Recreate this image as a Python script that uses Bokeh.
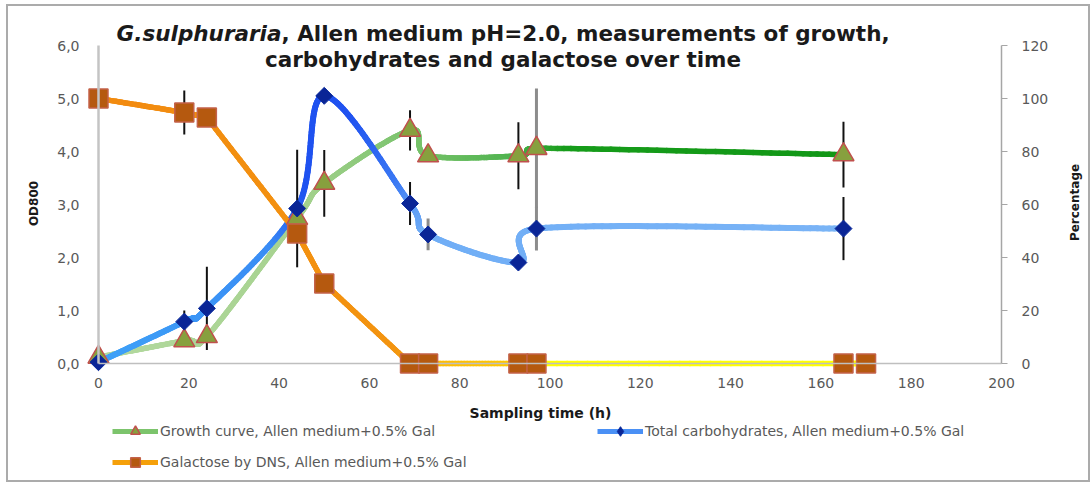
import numpy as np
from bokeh.plotting import figure
from bokeh.models import (Range1d, LinearAxis, FixedTicker, Label, Legend,
                          LegendItem, ColumnDataSource)
from bokeh.embed import file_html
from bokeh.resources import INLINE

# ---------------- data ----------------
time_growth = [0, 19, 24, 44, 50, 69, 73, 93, 97, 165]
od800 = [0.12, 0.43, 0.51, 2.74, 3.40, 4.40, 3.92, 3.92, 4.06, 3.94]
od800_err = [0, 0, 0, 0, 0.63, 0.38, 0, 0.63, 1.13, 0.62]

time_carb = [0, 19, 24, 44, 50, 69, 73, 93, 97, 165]
carb_pct = [0.5, 15.8, 20.8, 58.5, 101.0, 60.4, 48.7, 38.1, 50.9, 50.9]
carb_err = [0, 4.2, 15.7, 22.2, 0, 8.1, 6.0, 0, 8.3, 11.9]

time_gal = [0, 19, 24, 44, 50, 69, 73, 93, 97, 165, 170]
gal_pct = [100, 94.7, 92.8, 49.1, 30.2, 0, 0, 0, 0, 0, 0]
gal_err = [0, 8.3, 3.0, 0, 3.4, 0, 0, 0, 0, 0, 0]

gray_err_growth = [97]
gray_err_carb = [73, 97]

x_ticks = list(range(0, 201, 20))
od_ticks = [0, 1, 2, 3, 4, 5, 6]
od_tick_labels = ["0,0", "1,0", "2,0", "3,0", "4,0", "5,0", "6,0"]
pct_ticks = [0, 20, 40, 60, 80, 100, 120]

title_italic = "G.sulphuraria"
title_rest = ", Allen medium pH=2.0, measurements of growth,"
title_line2 = "carbohydrates and galactose over time"
label_growth = "Growth curve, Allen medium+0.5% Gal"
label_carb = "Total carbohydrates, Allen medium+0.5% Gal"
label_gal = "Galactose by DNS, Allen medium+0.5% Gal"

# ---------------- layout constants ----------------
W, H = 1084, 478          # canvas size
OX, OY = 8, 6             # canvas origin on the page (border + margin)
PX_H = 903 / 200.0        # pixels per hour
PX_OD = 318 / 6.0         # pixels per OD unit
PX_PCT = 318 / 120.0      # pixels per percent
X0_PAGE, Y0_PAGE, YTOP_PAGE = 98, 363, 45

x_start = -(X0_PAGE - OX) / PX_H
x_end = x_start + W / PX_H
od_end = 6 + (YTOP_PAGE - OY) / PX_OD
od_start = od_end - H / PX_OD
pct_end = 120 + (YTOP_PAGE - OY) / PX_PCT
pct_start = pct_end - H / PX_PCT


# ---------------- helpers (rendering only) ----------------
def smooth_path(xs, ys, sy, n=40):
    """Excel-like smoothed line (cubic Bezier through the points)."""
    X = np.asarray(xs, float) * PX_H
    Y = np.asarray(ys, float) * sy
    m = len(X)
    px, py = [], []
    for i in range(m - 1):
        i0 = max(i - 1, 0)
        i3 = min(i + 2, m - 1)
        chord = np.hypot(X[i + 1] - X[i], Y[i + 1] - Y[i])
        t1 = np.array([X[i + 1] - X[i0], Y[i + 1] - Y[i0]]) / 6
        t2 = np.array([X[i3] - X[i], Y[i3] - Y[i]]) / 6
        for tv in (t1, t2):
            L = np.hypot(*tv)
            if L > chord:
                tv *= chord / L
        c1 = np.array([X[i], Y[i]]) + t1
        c2 = np.array([X[i + 1], Y[i + 1]]) - t2
        t = np.linspace(0, 1, n, endpoint=(i == m - 2))
        a = (1 - t) ** 3
        b = 3 * (1 - t) ** 2 * t
        c = 3 * (1 - t) * t ** 2
        d = t ** 3
        px.extend(a * X[i] + b * c1[0] + c * c2[0] + d * X[i + 1])
        py.extend(a * Y[i] + b * c1[1] + c * c2[1] + d * Y[i + 1])
    return np.array(px) / PX_H, np.array(py) / sy


def straight_path(xs, ys, n=30):
    xs = np.asarray(xs, float)
    ys = np.asarray(ys, float)
    px, py = [], []
    m = len(xs)
    for i in range(m - 1):
        t = np.linspace(0, 1, n, endpoint=(i == m - 2))
        px.extend(xs[i] + (xs[i + 1] - xs[i]) * t)
        py.extend(ys[i] + (ys[i + 1] - ys[i]) * t)
    return np.array(px), np.array(py)


def hex2rgb(h):
    h = h.lstrip("#")
    return [int(h[k:k + 2], 16) for k in (0, 2, 4)]


def gradient(xm, stops):
    sx = [s[0] for s in stops]
    rgb = np.array([hex2rgb(s[1]) for s in stops], float)
    out = []
    for x in xm:
        r = int(round(np.interp(x, sx, rgb[:, 0])))
        g = int(round(np.interp(x, sx, rgb[:, 1])))
        b = int(round(np.interp(x, sx, rgb[:, 2])))
        out.append("#%02x%02x%02x" % (r, g, b))
    return out


def seg_source(px, py, stops):
    xm = (px[:-1] + px[1:]) / 2
    return ColumnDataSource(dict(x0=px[:-1], y0=py[:-1], x1=px[1:], y1=py[1:],
                                 c=gradient(xm, stops)))


growth_stops = [(0, "#b4d9a0"), (45, "#a6d28f"), (72, "#74c168"), (92, "#4fb34f"),
                (104, "#169c1a"), (200, "#0f9414")]
carb_stops = [(0, "#3ea2f7"), (38, "#3a8df5"), (46, "#1f52f0"), (56, "#2052f0"),
              (66, "#3a78f3"), (72, "#70aef6"), (200, "#7db6f6")]
gal_stops = [(0, "#f28a10"), (66, "#f39410"), (74, "#fdbb05"), (92, "#ffc800"),
             (100, "#ffff00"), (200, "#ffff00")]

# ---------------- figure ----------------
p = figure(width=W, height=H, x_range=Range1d(x_start, x_end),
           y_range=Range1d(od_start, od_end),
           output_backend="svg", toolbar_location=None, title=None,
           min_border_left=0, min_border_right=0, min_border_top=0,
           min_border_bottom=0, min_border=0)
p.styles = {"margin-left": "6px", "margin-top": "4px", "border": "2px solid #ababab"}
p.extra_y_ranges = {"pct": Range1d(pct_start, pct_end)}
p.xgrid.visible = False
p.ygrid.visible = False
p.outline_line_color = None
p.background_fill_color = "white"
p.border_fill_color = "white"

xa = p.xaxis[0]
xa.fixed_location = 0
xa.bounds = (0, 200)
xa.ticker = FixedTicker(ticks=x_ticks)
xa.axis_line_color = "#bfbfbf"
xa.axis_line_width = 1.5
xa.major_tick_out = 0
xa.major_tick_in = 0
xa.minor_tick_line_color = None
xa.major_label_standoff = 14
xa.major_label_text_font = "DejaVu Sans"
xa.major_label_text_font_size = "14px"
xa.major_label_text_color = "#595959"

ya = p.yaxis[0]
ya.fixed_location = 0
ya.bounds = (0, 6)
ya.ticker = FixedTicker(ticks=od_ticks)
ya.major_label_overrides = {t: s for t, s in zip(od_ticks, od_tick_labels)}
ya.axis_line_color = "#c4c4c4"
ya.axis_line_width = 2.5
ya.major_tick_out = 0
ya.major_tick_in = 0
ya.minor_tick_line_color = None
ya.major_label_standoff = 19
ya.major_label_text_font = "DejaVu Sans"
ya.major_label_text_font_size = "14px"
ya.major_label_text_color = "#595959"

ra = LinearAxis(y_range_name="pct", ticker=FixedTicker(ticks=pct_ticks))
ra.fixed_location = 200
ra.bounds = (0, 120)
ra.axis_line_color = "#a6a6a6"
ra.axis_line_width = 1.5
ra.major_tick_line_color = "#a6a6a6"
ra.major_tick_out = 6
ra.major_tick_in = 0
ra.minor_tick_line_color = None
ra.major_label_standoff = 14
ra.major_label_text_font = "DejaVu Sans"
ra.major_label_text_font_size = "14px"
ra.major_label_text_color = "#595959"
p.add_layout(ra, "right")

# ---------------- lines ----------------
gx, gy = smooth_path(time_growth, od800, PX_OD)
cx, cy = smooth_path(time_carb, carb_pct, PX_PCT)
lx, ly = straight_path(time_gal, gal_pct)

g_line = p.line(gx, gy, line_color="#7cc46c", line_width=5)
p.segment("x0", "y0", "x1", "y1", source=seg_source(gx, gy, growth_stops),
          line_color="c", line_width=5.5, line_cap="round")

c_line = p.line(cx, cy, line_color="#4a90f5", line_width=5, y_range_name="pct")
p.segment("x0", "y0", "x1", "y1", source=seg_source(cx, cy, carb_stops),
          line_color="c", line_width=6, line_cap="round", y_range_name="pct")

l_line = p.line(lx, ly, line_color="#f5a00a", line_width=5, y_range_name="pct")
p.segment("x0", "y0", "x1", "y1", source=seg_source(lx, ly, gal_stops),
          line_color="c", line_width=5.5, line_cap="round", y_range_name="pct")


# ---------------- error bars ----------------
def err_source(ts, vals, errs, gray):
    x, y0, y1, col, w = [], [], [], [], []
    for t, v, e in zip(ts, vals, errs):
        if e > 0:
            x.append(t)
            y0.append(v - e)
            y1.append(v + e)
            col.append("#8c8c8c" if t in gray else "#111111")
            w.append(3 if t in gray else 2)
    return ColumnDataSource(dict(x=x, y0=y0, y1=y1, c=col, w=w))


p.segment("x", "y0", "x", "y1", source=err_source(time_growth, od800, od800_err, gray_err_growth),
          line_color="c", line_width="w")
p.segment("x", "y0", "x", "y1", source=err_source(time_carb, carb_pct, carb_err, gray_err_carb),
          line_color="c", line_width="w", y_range_name="pct")
p.segment("x", "y0", "x", "y1", source=err_source(time_gal, gal_pct, gal_err, []),
          line_color="c", line_width="w", y_range_name="pct")

# ---------------- markers ----------------
g_mk = p.scatter(time_growth, od800, marker="triangle", size=21,
                 fill_color="#87a03e", line_color="#c0504d", line_width=1.5)
# plain diamonds (hidden under the rotated squares) give the legend its glyph
c_leg = p.scatter(time_carb, carb_pct, marker="diamond", size=14,
                  fill_color="#0a2596", line_color="#0a2a9c", line_width=1,
                  y_range_name="pct")
c_mk = p.scatter(time_carb, carb_pct, marker="square", angle=np.pi / 4, size=12,
                 fill_color="#0a2596", line_color="#0a2a9c", line_width=1,
                 y_range_name="pct")
l_mk = p.scatter(time_gal, gal_pct, marker="square", size=19,
                 fill_color="#b5590f", line_color="#c4624a", line_width=1.5,
                 y_range_name="pct")


# ---------------- texts ----------------
def tx(px):  # page pixel -> hours
    return (px - X0_PAGE) / PX_H


def ty(py):  # page pixel -> OD800
    return (Y0_PAGE - py) / PX_OD


split = 281
TF = "21.5px"
p.add_layout(Label(x=tx(split), y=ty(33), text=title_italic, text_align="right",
                   text_baseline="middle", text_font="DejaVu Sans",
                   text_font_style="bold italic", text_font_size=TF,
                   text_color="#1a1a1a"))
p.add_layout(Label(x=tx(split), y=ty(33), text=title_rest, text_align="left",
                   text_baseline="middle", text_font="DejaVu Sans",
                   text_font_style="bold", text_font_size=TF,
                   text_color="#1a1a1a"))
p.add_layout(Label(x=tx(502.5), y=ty(59), text=title_line2, text_align="center",
                   text_baseline="middle", text_font="DejaVu Sans",
                   text_font_style="bold", text_font_size=TF,
                   text_color="#1a1a1a"))
p.add_layout(Label(x=tx(33), y=ty(203), text="OD800", angle=np.pi / 2,
                   text_align="center", text_baseline="middle", text_font="DejaVu Sans",
                   text_font_style="bold", text_font_size="12px", text_color="#1a1a1a"))
p.add_layout(Label(x=tx(1074), y=ty(202), text="Percentage", angle=np.pi / 2,
                   text_align="center", text_baseline="middle", text_font="DejaVu Sans",
                   text_font_style="bold", text_font_size="12px", text_color="#1a1a1a"))
p.add_layout(Label(x=tx(540), y=ty(412), text="Sampling time (h)",
                   text_align="center", text_baseline="middle", text_font="DejaVu Sans",
                   text_font_style="bold", text_font_size="14px", text_color="#1a1a1a"))


# ---------------- legends ----------------
def style_legend(lg):
    lg.label_text_font = "DejaVu Sans"
    lg.label_text_font_size = "14px"
    lg.label_text_color = "#595959"
    lg.glyph_width = 46
    lg.glyph_height = 24
    lg.label_height = 24
    lg.label_standoff = 2
    lg.spacing = 7
    lg.padding = 0
    lg.margin = 0
    lg.border_line_color = None
    lg.background_fill_alpha = 0


leg1_bottom = 474
leg2_bottom = 443
leg1 = Legend(items=[LegendItem(label=label_growth, renderers=[g_line, g_mk]),
                     LegendItem(label=label_gal, renderers=[l_line, l_mk])],
              location=(112 - OX, OY + H - leg1_bottom), orientation="vertical")
leg2 = Legend(items=[LegendItem(label=label_carb, renderers=[c_line, c_leg])],
              location=(597 - OX, OY + H - leg2_bottom), orientation="vertical")
style_legend(leg1)
style_legend(leg2)
p.add_layout(leg1)
p.add_layout(leg2)

open("out.html", "w").write(file_html(p, INLINE))
